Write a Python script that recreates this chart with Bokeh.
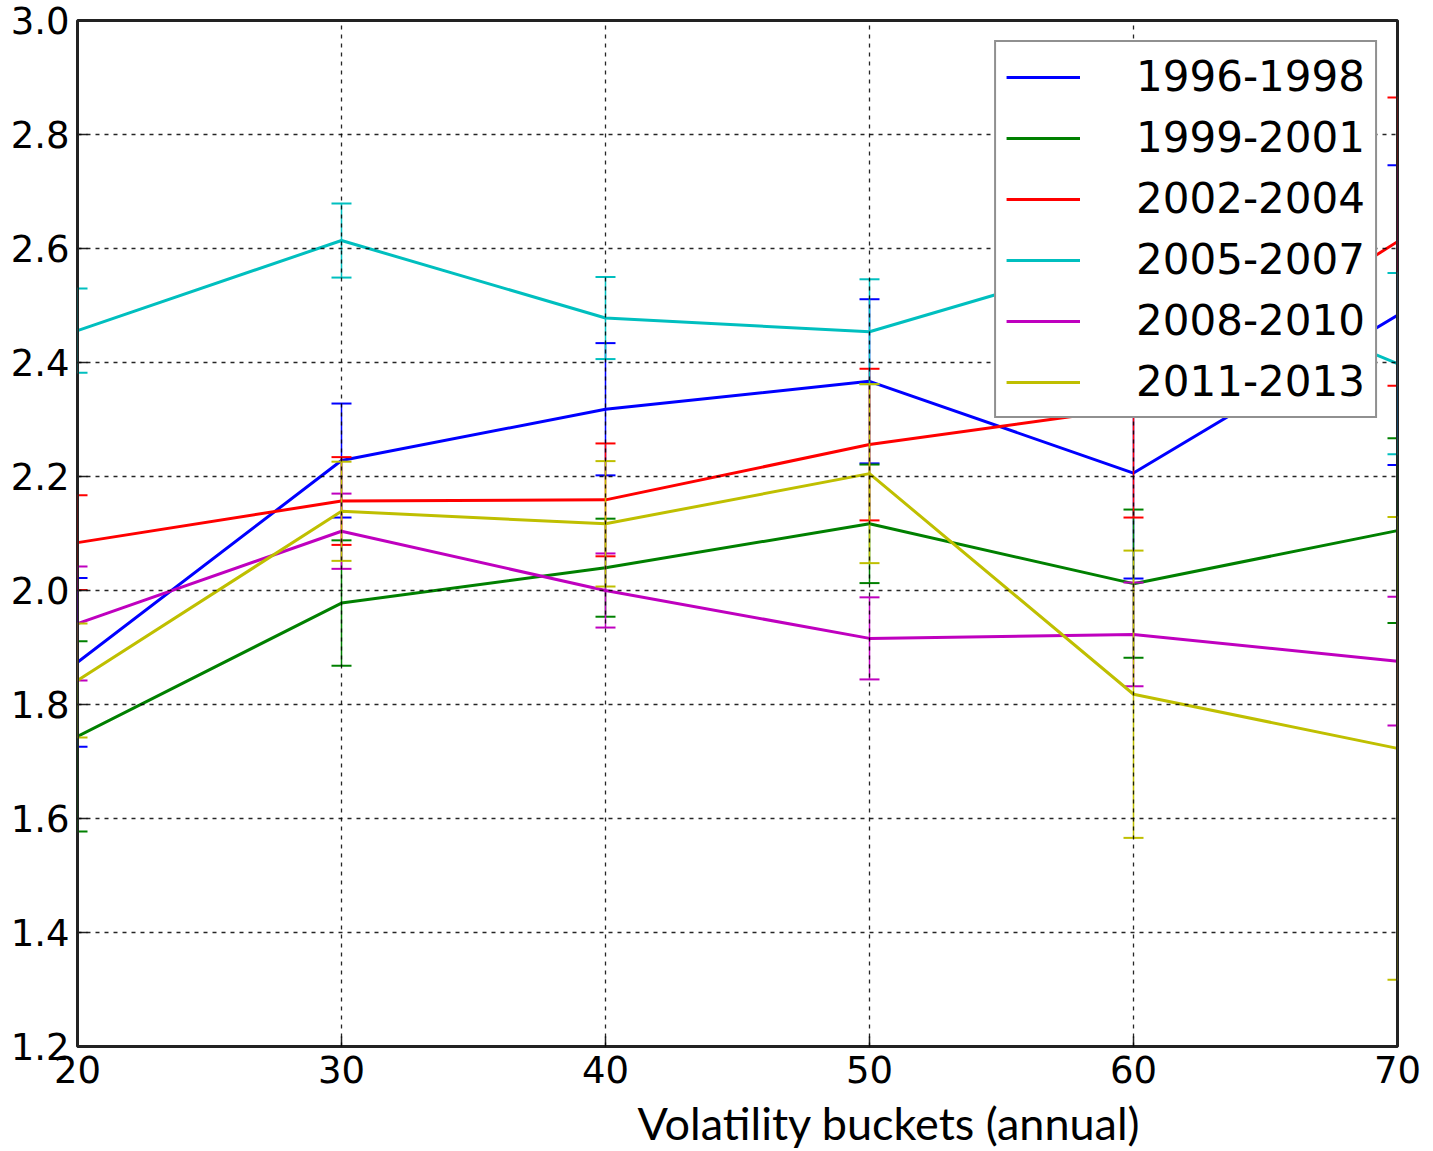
from bokeh.plotting import figure
from bokeh.models import Range1d, FixedTicker, Title, ColumnDataSource, CustomJSTickFormatter, Span
from bokeh.embed import file_html
from bokeh.resources import INLINE

# ---- data ----
buckets = [20, 30, 40, 50, 60, 70]
period_labels = ["1996-1998", "1999-2001", "2002-2004", "2005-2007", "2008-2010", "2011-2013"]

v_1996_1998 = [1.874, 2.228, 2.318, 2.367, 2.206, 2.483]
e_1996_1998 = [0.148, 0.100, 0.116, 0.144, 0.185, 0.263]

v_1999_2001 = [1.744, 1.978, 2.040, 2.117, 2.012, 2.105]
e_1999_2001 = [0.167, 0.110, 0.086, 0.104, 0.130, 0.162]

v_2002_2004 = [2.084, 2.157, 2.159, 2.256, 2.320, 2.612]
e_2002_2004 = [0.083, 0.077, 0.099, 0.133, 0.192, 0.253]

v_2005_2007 = [2.456, 2.614, 2.478, 2.454, 2.590, 2.398]
e_2005_2007 = [0.074, 0.065, 0.072, 0.092, 0.070, 0.159]

v_2008_2010 = [1.942, 2.104, 2.000, 1.916, 1.923, 1.876]
e_2008_2010 = [0.100, 0.066, 0.065, 0.072, 0.091, 0.113]

v_2011_2013 = [1.842, 2.139, 2.117, 2.205, 1.818, 1.723]
e_2011_2013 = [0.100, 0.087, 0.110, 0.157, 0.252, 0.406]

series_values = [v_1996_1998, v_1999_2001, v_2002_2004, v_2005_2007, v_2008_2010, v_2011_2013]
series_errors = [e_1996_1998, e_1999_2001, e_2002_2004, e_2005_2007, e_2008_2010, e_2011_2013]
colors = ["#0000ff", "#008000", "#ff0000", "#00bfbf", "#bf00bf", "#bfbf00"]

x_ticks = [20, 30, 40, 50, 60, 70]
y_ticks = [1.2, 1.4, 1.6, 1.8, 2.0, 2.2, 2.4, 2.6, 2.8, 3.0]
x_title = "Volatility buckets (annual)"

# ---- figure ----
p = figure(frame_width=1320, frame_height=1026,
           x_range=Range1d(20, 70), y_range=Range1d(1.2, 3.0),
           output_backend="svg", toolbar_location=None,
           min_border_left=77, min_border_right=28,
           min_border_top=20, min_border_bottom=0)
p.background_fill_color = "white"
p.border_fill_color = "white"
p.outline_line_color = "#222222"
p.outline_line_width = 3

for ax in (p.xaxis[0], p.yaxis[0]):
    ax.axis_line_color = None
    ax.major_tick_in = 10
    ax.major_tick_out = 0
    ax.major_tick_line_color = "#222222"
    ax.major_tick_line_width = 1.5
    ax.minor_tick_line_color = None
    ax.major_label_text_font = "DejaVu Sans"
    ax.major_label_text_font_size = "37px"
    ax.major_label_text_color = "black"

p.xaxis.ticker = FixedTicker(ticks=x_ticks)
p.yaxis.ticker = FixedTicker(ticks=y_ticks)
p.yaxis.formatter = CustomJSTickFormatter(code="return tick.toFixed(1);")
p.xaxis.major_label_standoff = 9
p.yaxis.major_label_standoff = 8

p.xgrid.ticker = FixedTicker(ticks=x_ticks)
p.ygrid.ticker = FixedTicker(ticks=y_ticks)
p.grid.grid_line_color = "black"
p.grid.grid_line_dash = "4 5"
p.grid.grid_line_width = 1.3
p.grid.grid_line_alpha = 0.85
p.grid.level = "guide"

for vals, errs, col, lab in zip(series_values, series_errors, colors, period_labels):
    lo = [v - e for v, e in zip(vals, errs)]
    hi = [v + e for v, e in zip(vals, errs)]
    src = ColumnDataSource(dict(x=buckets, y=vals, lo=lo, hi=hi))
    p.segment(x0="x", y0="lo", x1="x", y1="hi", source=src, line_color=col, line_width=1.5)
    p.scatter(x="x", y="lo", source=src, marker="dash", size=20, line_color=col, line_width=2)
    p.scatter(x="x", y="hi", source=src, marker="dash", size=20, line_color=col, line_width=2)
    p.line(x="x", y="y", source=src, line_color=col, line_width=3, legend_label=lab)

# left / right spines drawn over the data, as in the original
for xb in (x_ticks[0], x_ticks[-1]):
    p.add_layout(Span(location=xb, dimension="height", line_color="#222222", line_width=3))

leg = p.legend[0]
leg.location = "top_right"
leg.margin = 20
leg.padding = 10
leg.spacing = 12
leg.glyph_width = 74
leg.glyph_height = 40
leg.label_standoff = 56
leg.label_text_font = "DejaVu Sans"
leg.label_text_font_size = "42px"
leg.label_text_color = "black"
leg.border_line_color = "#222222"
leg.border_line_width = 2
leg.background_fill_color = "white"
leg.background_fill_alpha = 1.0

p.add_layout(Title(text=x_title, align="left", offset=560, standoff=16,
                   text_font="Lato", text_font_size="45px",
                   text_font_style="normal", text_color="black"), "below")

open("out.html", "w").write(file_html(p, INLINE))
